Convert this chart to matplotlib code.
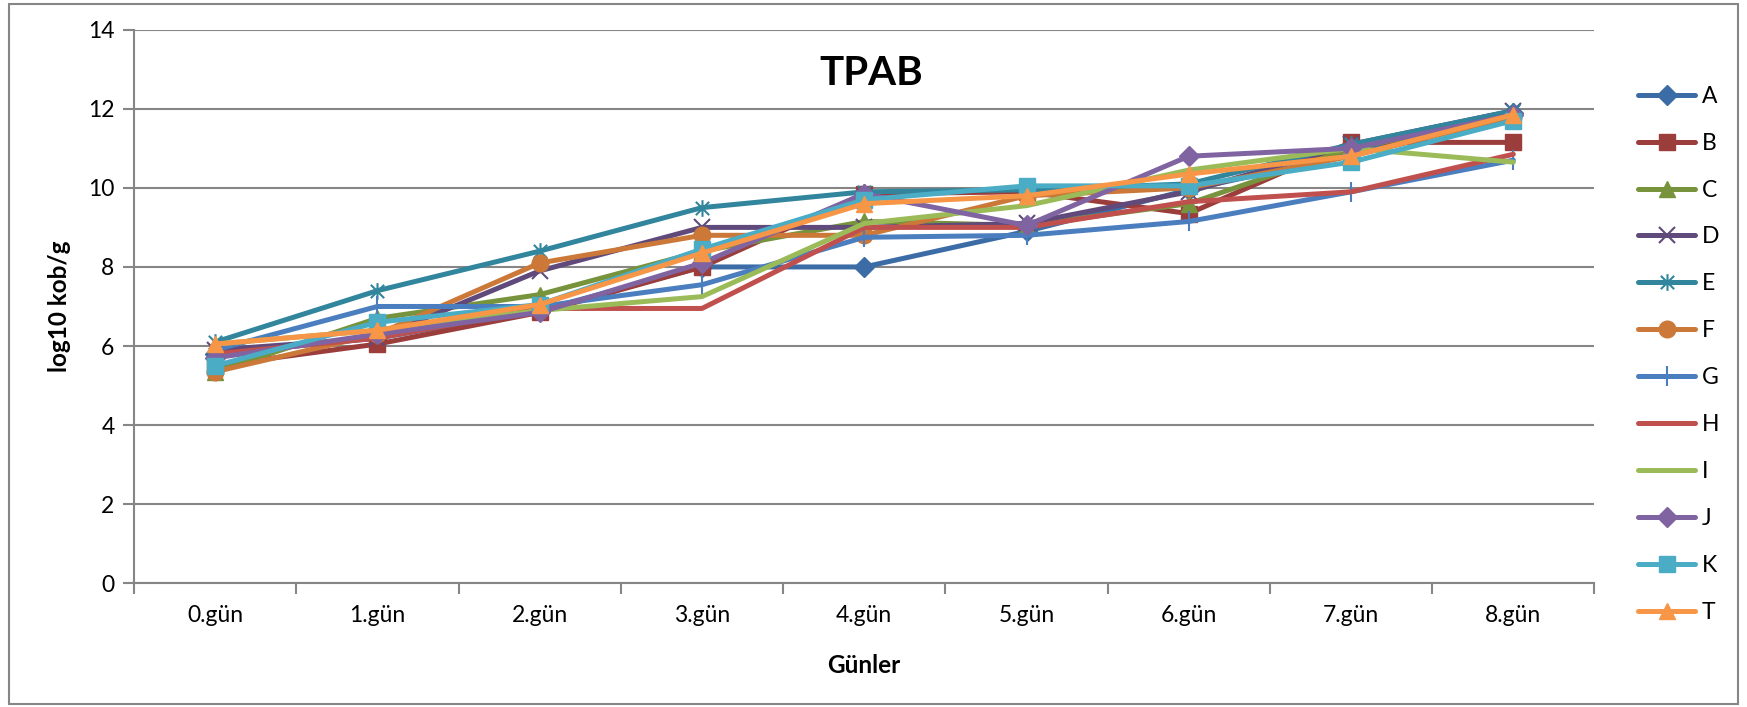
import matplotlib
matplotlib.use("Agg")
import matplotlib.pyplot as plt
from matplotlib.path import Path
from matplotlib.patches import Rectangle

plt.rcParams['font.family'] = ['Lato', 'DejaVu Sans']

days = ["0.gün", "1.gün", "2.gün", "3.gün", "4.gün", "5.gün", "6.gün", "7.gün", "8.gün"]

# log10 kob/g per sample
A = [5.80, 6.20, 6.90, 8.00, 8.00, 8.90, 9.95, 10.85, 11.90]
B = [5.50, 6.05, 6.85, 8.00, 9.85, 9.90, 9.35, 11.15, 11.15]
C = [5.35, 6.70, 7.30, 8.40, 9.15, 9.05, 9.60, 11.00, 11.80]
D = [5.90, 6.20, 7.90, 9.00, 9.00, 9.10, 9.90, 11.10, 11.95]
E = [6.10, 7.40, 8.40, 9.50, 9.90, 9.95, 10.10, 11.10, 11.95]
F = [5.35, 6.30, 8.10, 8.80, 8.80, 9.80, 10.00, 10.80, 11.80]
G = [5.90, 7.00, 7.00, 7.55, 8.75, 8.80, 9.15, 9.90, 10.70]
H = [5.80, 6.20, 6.95, 6.95, 9.00, 9.00, 9.65, 9.90, 10.85]
I = [6.05, 6.40, 6.90, 7.25, 9.10, 9.55, 10.45, 11.00, 10.65]
J = [5.70, 6.30, 6.85, 8.10, 9.85, 9.05, 10.80, 11.00, 11.85]
K = [5.50, 6.60, 7.05, 8.45, 9.70, 10.05, 10.05, 10.65, 11.70]
T = [6.05, 6.40, 7.05, 8.35, 9.60, 9.80, 10.35, 10.80, 11.85]

labels = ["A", "B", "C", "D", "E", "F", "G", "H", "I", "J", "K", "T"]
series = [A, B, C, D, E, F, G, H, I, J, K, T]

# excel style asterisk: vertical bar + x
star = Path([(0, -1), (0, 1), (-0.8, -0.8), (0.8, 0.8), (-0.8, 0.8), (0.8, -0.8)],
            [Path.MOVETO, Path.LINETO, Path.MOVETO, Path.LINETO, Path.MOVETO, Path.LINETO])

styles = {
    "A": dict(color="#3C6CA6", marker="D", ms=10),
    "B": dict(color="#9B3D3A", marker="s", ms=11),
    "C": dict(color="#77933C", marker="^", ms=12),
    "D": dict(color="#604A7B", marker="x", ms=11, mew=1.5),
    "E": dict(color="#31859C", marker=star, ms=12, mew=1.5),
    "F": dict(color="#CC7838", marker="o", ms=12),
    "G": dict(color="#4A7EBF", marker="|", ms=14, mew=1.5),
    "H": dict(color="#C0504D", marker=None),
    "I": dict(color="#9BBB59", marker=None),
    "J": dict(color="#8064A2", marker="D", ms=10),
    "K": dict(color="#4BACC6", marker="s", ms=11),
    "T": dict(color="#F79646", marker="^", ms=12),
}

fig = plt.figure(figsize=(17.47, 7.07), dpi=100)
ax = fig.add_axes([0.0767, 0.175, 0.836, 0.783])

x = list(range(len(days)))
for lab, vals in zip(labels, series):
    st = styles[lab]
    ax.plot(x, vals, color=st["color"], lw=3.6, marker=st["marker"],
            markersize=st.get("ms", 0), markeredgewidth=st.get("mew", 1),
            markeredgecolor=st["color"], markerfacecolor=st["color"],
            label=lab, solid_joinstyle="round", solid_capstyle="round")

ax.set_xlim(-0.5, len(days) - 0.5)
ax.set_ylim(0, 14)
ax.set_yticks(range(0, 15, 2))
ax.set_xticks(x)
ax.set_xticklabels(days)
ax.set_xticks([i - 0.5 for i in range(len(days) + 1)], minor=True)
ax.tick_params(axis="x", which="major", length=0, pad=16, labelsize=16.5)
ax.tick_params(axis="x", which="minor", length=8, width=1.5, color="#868686", direction="out")
ax.tick_params(axis="y", length=8, width=1.5, color="#868686", labelsize=16.5, pad=6)

ax.grid(axis="y", color="#868686", lw=1.5)
ax.set_axisbelow(True)
for side in ["top", "right"]:
    ax.spines[side].set_visible(False)
for side in ["left", "bottom"]:
    ax.spines[side].set_color("#868686")
    ax.spines[side].set_linewidth(1.5)

ax.set_xlabel("Günler", fontsize=17.5, fontweight="bold", labelpad=20)
ax.set_ylabel("log10 kob/g", fontsize=17.5, fontweight="bold", labelpad=12)
ax.text(0.505, 0.955, "TPAB", transform=ax.transAxes, ha="center", va="top",
        fontsize=29, fontweight="bold")

fig.legend(loc="center left", bbox_to_anchor=(0.931, 0.499), frameon=False,
           fontsize=16.5, handlelength=2.5, handletextpad=0.3, labelspacing=1.13,
           borderpad=0)

fig.add_artist(Rectangle((0.005, 0.004), 0.99, 0.99, transform=fig.transFigure,
                         fill=False, edgecolor="#868686", lw=1.5))

fig.savefig("out.png", dpi=100)
plt.close(fig)
